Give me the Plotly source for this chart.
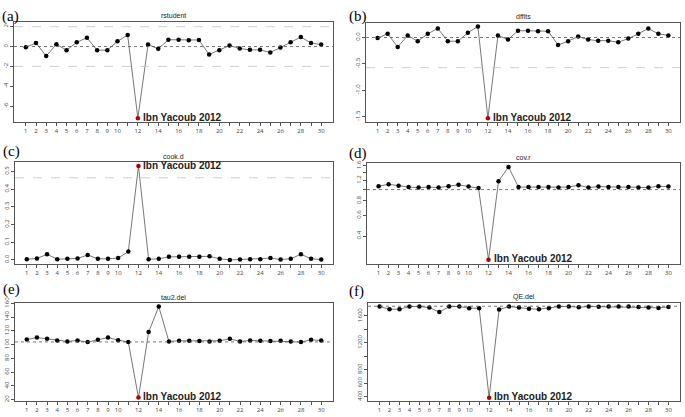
import math
import plotly.graph_objects as go

study = list(range(1, 31))
outlier = 12
outlier_label = "Ibn Yacoub 2012"

rstudent = [-0.07, 0.36, -0.96, 0.23, -0.36, 0.43, 0.89, -0.36, -0.36, 0.53,
            1.16, -7.21, 0.2, -0.23, 0.69, 0.69, 0.63, 0.66, -0.79, -0.36,
            0.1, -0.2, -0.33, -0.33, -0.59, -0.1, 0.43, 0.96, 0.36, 0.2]
dffits = [-0.01, 0.07, -0.18, 0.04, -0.07, 0.07, 0.17, -0.07, -0.07, 0.09,
          0.21, -1.53, 0.04, -0.04, 0.13, 0.13, 0.12, 0.12, -0.14, -0.07,
          0.02, -0.04, -0.06, -0.06, -0.09, -0.02, 0.07, 0.17, 0.07, 0.04]
cook_d = [0.004, 0.008, 0.032, 0.004, 0.006, 0.008, 0.028, 0.006, 0.006, 0.01,
          0.047, 0.53, 0.004, 0.006, 0.017, 0.017, 0.017, 0.017, 0.02, 0.006,
          0.0, 0.002, 0.004, 0.004, 0.01, 0.002, 0.006, 0.032, 0.006, 0.002]
cov_r = [1.07, 1.11, 1.08, 1.05, 1.04, 1.05, 1.04, 1.07, 1.10, 1.06,
         1.03, 0.25, 1.18, 1.56, 1.05, 1.05, 1.05, 1.05, 1.04, 1.05,
         1.09, 1.04, 1.06, 1.05, 1.05, 1.05, 1.04, 1.04, 1.07, 1.06]
tau2_del = [107.5, 110.3, 108.5, 106.1, 104.7, 106.1, 103.8, 107.0, 110.3, 106.6,
            103.8, 23.0, 118.3, 155.4, 104.7, 105.6, 105.6, 105.2, 104.7, 105.6,
            108.5, 104.7, 106.1, 105.6, 105.2, 105.6, 104.7, 103.8, 107.0, 106.1]
qe_del = [1740, 1701, 1701, 1740, 1740, 1725, 1658, 1740, 1740, 1716,
          1716, 383, 1696, 1740, 1725, 1706, 1701, 1716, 1740, 1740,
          1730, 1740, 1738, 1740, 1740, 1740, 1735, 1725, 1720, 1735]

x_ticks = list(range(1, 31))
x_text = [str(i) if (i <= 10 or i % 2 == 0) else "" for i in x_ticks]

# name, letter, values, y range, y ticks, y tick text, ref lines, log,
# box (left, right, top, bottom) px, letter position (x, y) px
panels = [
    ("rstudent", "(a)", rstudent, [-7.6, 2.5], [-6, -4, -2, 0, 2], ["-6", "-4", "-2", "0", "2"],
     [(2, "light"), (0, "dark"), (-2, "light")], False, (14, 333, 16, 118), (0, 0)),
    ("dffits", "(b)", dffits, [-1.6, 0.28], [0, -0.5, -1, -1.5], ["0.0", "-0.5", "-1.0", "-1.5"],
     [(0, "dark"), (-0.57, "light")], False, (366, 680, 17, 118), (347, 0)),
    ("cook.d", "(c)", cook_d, [-0.021, 0.551], [0, 0.1, 0.2, 0.3, 0.4, 0.5],
     ["0.0", "0.1", "0.2", "0.3", "0.4", "0.5"], [(0.464, "light")], False, (15, 333, 159, 262), (1, 137)),
    ("cov.r", "(d)", cov_r, [-0.634, 0.225], [0.4, 0.6, 0.8, 1.0, 1.2, 1.4, 1.6],
     ["0.4", "0.6", "0.8", "", "1.2", "", "1.6"], [(1.0, "dark")], True, (367, 680, 160, 262), (347, 139)),
    ("tau2.del", "(e)", tau2_del, [17.7, 160.7], [20, 40, 60, 80, 100, 120, 140, 160],
     ["20", "40", "60", "80", "100", "120", "140", "160"], [(104, "dark")], False, (15, 333, 302, 402), (1, 278)),
    ("QE.del", "(f)", qe_del, [329, 1794], [400, 600, 800, 1000, 1200, 1400, 1600],
     ["400", "600", "800", "", "1200", "", "1600"], [(1745, "dark")], False, (368, 680, 302, 402), (347, 280)),
]

W, H = 685, 417
fig = go.Figure()
annotations = []
shapes = []
layout = {}

for i, (name, letter, vals, yr, yt, ytt, refs, islog, box, lpos) in enumerate(panels):
    n = "" if i == 0 else str(i + 1)
    xa, ya = "x" + n, "y" + n
    left, right, top, bottom = box
    layout["xaxis" + n] = dict(
        domain=[left / W, right / W], range=[-0.16, 31.16], anchor=ya,
        tickvals=x_ticks, ticktext=x_text, ticks="outside", ticklen=3, tickwidth=0.6,
        tickcolor="#555", showline=True, linecolor="#555", linewidth=0.8, mirror=True,
        showgrid=False, zeroline=False, tickfont=dict(size=6, color="#444"))
    layout["yaxis" + n] = dict(
        domain=[1 - bottom / H, 1 - top / H], range=yr, anchor=xa,
        type="log" if islog else "linear",
        tickvals=yt, ticktext=ytt, ticks="outside", ticklen=3, tickwidth=0.6,
        tickcolor="#555", showline=True, linecolor="#555", linewidth=0.8, mirror=True,
        showgrid=False, zeroline=False, tickangle=-90, tickfont=dict(size=6, color="#444"))

    for yv, style in refs:
        shapes.append(dict(type="line", xref=xa + " domain", yref=ya, x0=0, x1=1, y0=yv, y1=yv,
                           line=dict(color="#555" if style == "dark" else "#c4c4c4",
                                     width=0.8, dash="dot" if style == "dark" else "dash")))

    colors = ["#b00000" if s == outlier else "black" for s in study]
    fig.add_trace(go.Scatter(x=study, y=vals, xaxis=xa, yaxis=ya, mode="lines+markers",
                             line=dict(color="#555", width=0.8),
                             marker=dict(size=4.5, color=colors), showlegend=False))

    yo = vals[outlier - 1]
    annotations.append(dict(x=outlier, y=math.log10(yo) if islog else yo,
                            xref=xa, yref=ya, text="<b>" + outlier_label + "</b>",
                            showarrow=False, xanchor="left", yanchor="middle", xshift=3, yshift=1,
                            font=dict(family="Liberation Sans, Arial", size=10, color="#222")))
    annotations.append(dict(x=(left + right) / 2 / W, y=1 - (top - 6) / H, xref="paper", yref="paper",
                            text=name, showarrow=False, xanchor="center", yanchor="middle",
                            font=dict(family="Liberation Sans, Arial", size=7, color="#222")))
    annotations.append(dict(x=lpos[0] / W, y=1 - lpos[1] / H, xref="paper", yref="paper",
                            text=letter, showarrow=False, xanchor="left", yanchor="top",
                            font=dict(family="Liberation Serif, Times New Roman", size=15, color="black")))

fig.update_layout(width=W, height=H, margin=dict(l=0, r=0, t=0, b=0),
                  paper_bgcolor="white", plot_bgcolor="white",
                  annotations=annotations, shapes=shapes, **layout)
fig.write_html("out.html", config={"displayModeBar": False},
               post_script="document.body.style.margin='0';document.body.style.overflow='hidden';")
